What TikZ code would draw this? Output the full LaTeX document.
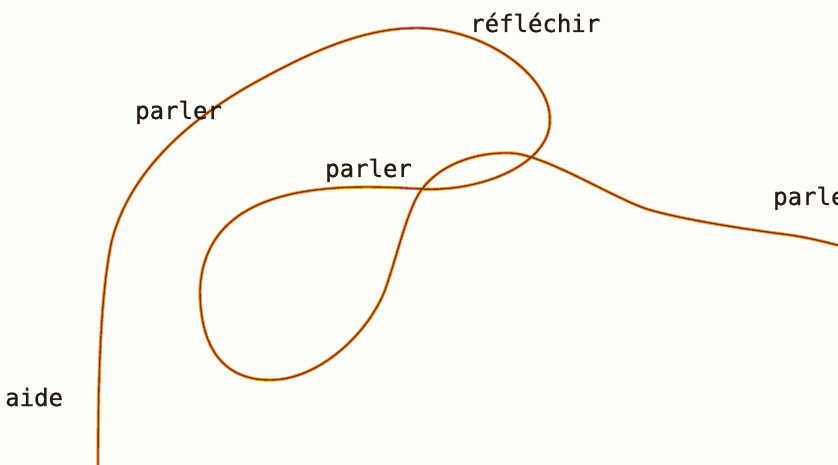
\documentclass[tikz,border=0pt]{standalone}
\usepackage{fontspec}
\newfontfamily\wordfont[FakeBold=0.8]{DejaVu Sans Mono}
\usetikzlibrary{positioning}
\definecolor{ThreadCore}{RGB}{140,45,10}
\definecolor{ThreadGlow}{RGB}{238,165,70}
\definecolor{InkText}{RGB}{40,28,14}
\definecolor{PaperBg}{RGB}{255,254,249}

\begin{document}
\begin{tikzpicture}[x=1pt, y=-1pt,
    thread/.style={line width=1.4pt, draw=ThreadCore, line cap=round, line join=round,
        preaction={draw=ThreadGlow, line width=3.4pt, line cap=round}},
    word/.style={font=\wordfont\fontsize{24}{28}\selectfont, text=InkText,
        inner sep=0pt, anchor=base west},
]
\fill[PaperBg] (0,0) rectangle (838,465);
\useasboundingbox (0,0) rectangle (838,465);
\clip (0,0) rectangle (838,465);

% the thread
\coordinate (foot) at (98,468);
\coordinate (rise) at (112,240);
\coordinate (bend) at (247,87);
\coordinate (top) at (417,28);
\coordinate (east) at (550,120);
\coordinate (knot) at (422,189);
\coordinate (west) at (200,290);
\coordinate (low) at (270,380);
\coordinate (climb) at (385,290);
\coordinate (crest) at (510,153);
\coordinate (slope) at (650,210);
\coordinate (flat) at (790,235);
\coordinate (tail) at (845,247);
\draw[thread] (foot) .. controls (98,360) and (102,285) .. (rise)
    .. controls (130,172) and (187,122) .. (bend)
    .. controls (299,58) and (357,28) .. (top)
    .. controls (483,28) and (550,74) .. (east)
    .. controls (550,165) and (480,192) .. (knot)
    .. controls (340,184) and (205,180) .. (west)
    .. controls (200,350) and (225,380) .. (low)
    .. controls (320,380) and (369,332) .. (climb)
    .. controls (397,257) and (407,209) .. (knot)
    .. controls (440,165) and (475,152) .. (crest)
    .. controls (545,154) and (616,200) .. (slope)
    .. controls (685,220) and (750,230) .. (flat)
    .. controls (810,238) and (825,242) .. (tail);

% the words
\node[word] (reflechir) at (470,32) {réfléchir};
\node[word] (parlerTop) at (135,119) {parler};
\node[word] (parlerMid) at (325,177) {parler};
\node[word] (parlerRight) at (773,205) {parler};
\node[word] (aide) at (5,406) {aide};
\end{tikzpicture}
\end{document}
